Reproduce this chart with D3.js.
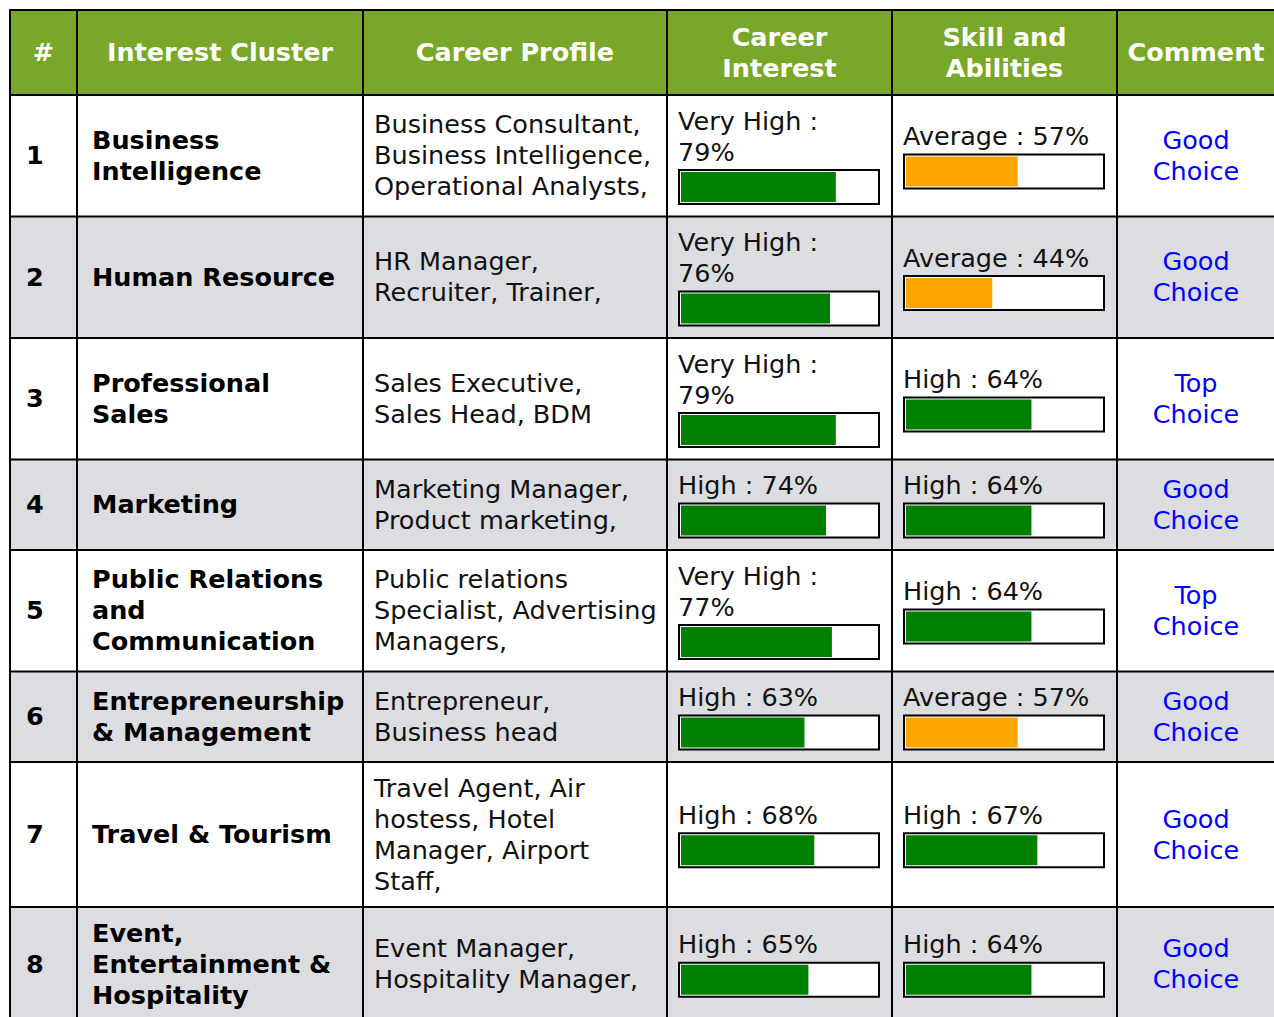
<!DOCTYPE html>
<html>
<head>
<meta charset="utf-8">
<script src="https://cdn.jsdelivr.net/npm/d3@7"></script>
<style>
  html, body { margin: 0; padding: 0; background: #ffffff; }
  svg { display: block; }
  text { font-family: "DejaVu Sans", sans-serif; }
</style>
</head>
<body>
<svg id="chart" width="1274" height="1017"></svg>
<script>
// ---------------- DATA ----------------
const headers = ["#", "Interest Cluster", "Career Profile", "Career\nInterest", "Skill and\nAbilities", "Comment"];
const rowNumbers = ["1", "2", "3", "4", "5", "6", "7", "8"];
const interestClusters = [
  ["Business", "Intelligence"],
  ["Human Resource"],
  ["Professional", "Sales"],
  ["Marketing"],
  ["Public Relations", "and", "Communication"],
  ["Entrepreneurship", "& Management"],
  ["Travel & Tourism"],
  ["Event,", "Entertainment &", "Hospitality"]
];
const careerProfiles = [
  ["Business Consultant,", "Business Intelligence,", "Operational Analysts,"],
  ["HR Manager,", "Recruiter, Trainer,"],
  ["Sales Executive,", "Sales Head, BDM"],
  ["Marketing Manager,", "Product marketing,"],
  ["Public relations", "Specialist, Advertising", "Managers,"],
  ["Entrepreneur,", "Business head"],
  ["Travel Agent, Air", "hostess, Hotel", "Manager, Airport", "Staff,"],
  ["Event Manager,", "Hospitality Manager,"]
];
const interestLevels = ["Very High", "Very High", "Very High", "High", "Very High", "High", "High", "High"];
const interestValues = [79, 76, 79, 74, 77, 63, 68, 65];
const skillLevels = ["Average", "Average", "High", "High", "High", "Average", "High", "High"];
const skillValues = [57, 44, 64, 64, 64, 57, 67, 64];
const comments = ["Good Choice", "Good Choice", "Top Choice", "Good Choice", "Top Choice", "Good Choice", "Good Choice", "Good Choice"];

// ---------------- LAYOUT ----------------
const svg = d3.select("#chart");
const X0 = 10, Y0 = 10;
const colWidths = [67, 286, 304, 225, 225, 158];
const colX = [X0];
colWidths.forEach(w => colX.push(colX[colX.length - 1] + w));
const headerH = 85;
const LH = 31;            // line height
const PAD = 21;           // total vertical padding per row
const BAR_BLOCK = 38.5;   // bar block height incl. margin
const BAR_TOP = 1.5;
const BAR_W = 202, BAR_H = 36;
const FONT = 25.5, HFONT = 25.5;
const BASE = 24.2;        // baseline offset within a line box
const WRAP_W = 198;

const green = "#79a72a", rowGray = "#dcdde0";
const levelColor = d => (d === "Average" ? "#ffa500" : "#008000");

const barScale = d3.scaleLinear().domain([0, 100]).range([0, BAR_W - 6]);

// measure helper to wrap the "Level : value%" labels
const meas = svg.append("text").attr("font-size", FONT).attr("visibility", "hidden");
function wrap(str) {
  const words = str.split(" ");
  const lines = [];
  let cur = "";
  words.forEach(w => {
    const t = cur ? cur + " " + w : w;
    meas.text(t);
    if (cur && meas.node().getComputedTextLength() > WRAP_W) { lines.push(cur); cur = w; }
    else cur = t;
  });
  if (cur) lines.push(cur);
  return lines;
}

const rows = rowNumbers.map((n, i) => ({
  num: n,
  cluster: interestClusters[i],
  profile: careerProfiles[i],
  interestLines: wrap(`${interestLevels[i]} : ${interestValues[i]}%`),
  interestLevel: interestLevels[i],
  interestValue: interestValues[i],
  skillLines: wrap(`${skillLevels[i]} : ${skillValues[i]}%`),
  skillLevel: skillLevels[i],
  skillValue: skillValues[i],
  comment: comments[i].split(" ")
}));
meas.remove();

rows.forEach(r => {
  const contentH = Math.max(
    r.cluster.length * LH,
    r.profile.length * LH,
    r.interestLines.length * LH + BAR_BLOCK,
    r.skillLines.length * LH + BAR_BLOCK,
    r.comment.length * LH
  );
  r.h = contentH + PAD;
});
let yAcc = Y0 + headerH;
rows.forEach(r => { r.y = yAcc; yAcc += r.h; });
const tableBottom = yAcc;

// ---------------- BACKGROUNDS ----------------
svg.append("rect").attr("x", X0).attr("y", Y0)
  .attr("width", colX[6] - X0).attr("height", headerH).attr("fill", green);

svg.selectAll("rect.rowbg").data(rows).join("rect").attr("class", "rowbg")
  .attr("x", X0).attr("y", d => d.y).attr("width", colX[6] - X0).attr("height", d => d.h)
  .attr("fill", (d, i) => (i % 2 ? rowGray : "#ffffff"));

// ---------------- HEADER ----------------
headers.forEach((h, ci) => {
  const lines = h.split("\n");
  const cx = (colX[ci] + colX[ci + 1]) / 2;
  const top = Y0 + headerH / 2 - lines.length * LH / 2;
  svg.append("text")
    .attr("text-anchor", "middle").attr("font-size", HFONT).attr("font-weight", "bold")
    .attr("fill", "#ffffff")
    .selectAll("tspan").data(lines).join("tspan")
    .attr("x", cx).attr("y", (d, k) => top + k * LH + BASE)
    .text(d => d);
});

// ---------------- CELLS ----------------
function textBlock(g, lines, x, top, opts) {
  g.append("text")
    .attr("font-size", FONT)
    .attr("font-weight", opts.bold ? "bold" : "normal")
    .attr("fill", opts.fill || "#111111")
    .attr("text-anchor", opts.anchor || "start")
    .selectAll("tspan").data(lines).join("tspan")
    .attr("x", x).attr("y", (d, k) => top + k * LH + BASE)
    .text(d => d);
}

const rowG = svg.selectAll("g.row").data(rows).join("g").attr("class", "row");

rowG.each(function (r) {
  const g = d3.select(this);
  const cy = r.y + r.h / 2;
  // #
  textBlock(g, [r.num], colX[0] + 16, cy - LH / 2, { bold: true, fill: "#000" });
  // cluster
  textBlock(g, r.cluster, colX[1] + 15, cy - r.cluster.length * LH / 2, { bold: true, fill: "#000" });
  // profile
  textBlock(g, r.profile, colX[2] + 11, cy - r.profile.length * LH / 2, {});
  // bar cells
  [[r.interestLines, r.interestLevel, r.interestValue, 3, true],
   [r.skillLines, r.skillLevel, r.skillValue, 4, false]].forEach(([lines, lvl, val, ci, alwaysGreen]) => {
    const blockH = lines.length * LH + BAR_BLOCK;
    const top = cy - blockH / 2;
    const bx = colX[ci] + 11;
    textBlock(g, lines, bx, top, {});
    const by = top + lines.length * LH + BAR_TOP;
    g.append("rect").attr("x", bx + 1).attr("y", by + 1)
      .attr("width", BAR_W - 2).attr("height", BAR_H - 2)
      .attr("fill", "#ffffff").attr("stroke", "#000").attr("stroke-width", 2);
    g.append("rect").attr("x", bx + 3).attr("y", by + 3)
      .attr("width", barScale(val)).attr("height", BAR_H - 6)
      .attr("fill", alwaysGreen ? "#008000" : levelColor(lvl));
  });
  // comment
  textBlock(g, r.comment, (colX[5] + colX[6]) / 2, cy - r.comment.length * LH / 2,
    { anchor: "middle", fill: "#0000ff" });
});

// ---------------- GRID LINES ----------------
const hLines = [Y0, Y0 + headerH].concat(rows.map(r => r.y + r.h));
svg.selectAll("line.h").data(hLines).join("line").attr("class", "h")
  .attr("x1", X0 - 1).attr("x2", colX[6] + 1)
  .attr("y1", d => d).attr("y2", d => d)
  .attr("stroke", "#000").attr("stroke-width", 2);
svg.selectAll("line.v").data(colX).join("line").attr("class", "v")
  .attr("x1", d => d).attr("x2", d => d)
  .attr("y1", Y0 - 1).attr("y2", tableBottom + 1)
  .attr("stroke", "#000").attr("stroke-width", 2);
</script>
</body>
</html>
